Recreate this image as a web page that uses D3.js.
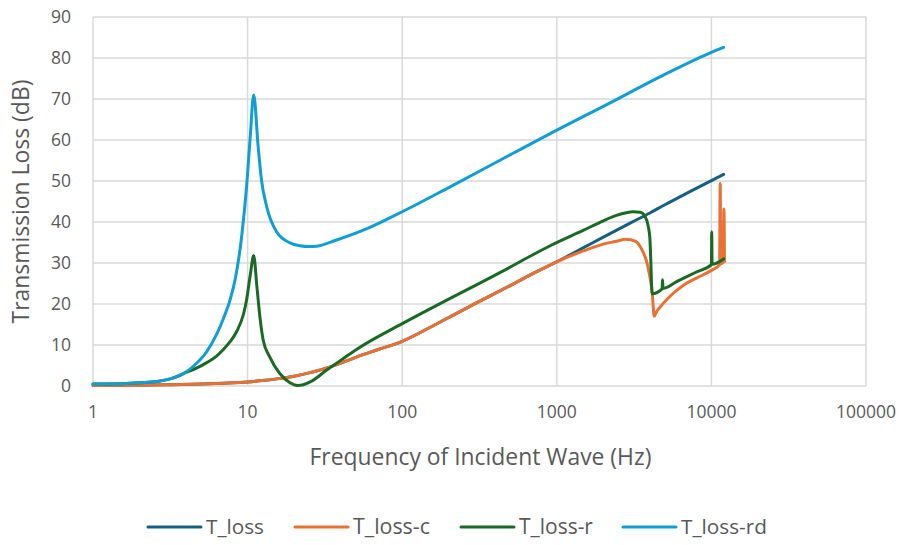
<!DOCTYPE html>
<html><head><meta charset="utf-8">
<script src="https://cdn.jsdelivr.net/npm/d3@7"></script>
<style>
html,body{margin:0;padding:0;background:#fff;}
svg{display:block;font-family:"Open Sans",sans-serif;}
</style></head>
<body><svg id="chart" width="909" height="545"></svg>
<script>
// ---- data ----
const seriesNames = ["T_loss", "T_loss-c", "T_loss-r", "T_loss-rd"];
const seriesColors = ["#156082", "#E97132", "#196B24", "#0F9ED5"];
const xTicks = [1, 10, 100, 1000, 10000, 100000];
const xTickLabels = ["1", "10", "100", "1000", "10000", "100000"];
const yTicks = [0, 10, 20, 30, 40, 50, 60, 70, 80, 90];

const tlossFreq = [1, 2, 3, 5, 7, 10, 13, 16, 20, 25, 30, 40, 50, 70, 100, 150, 200, 300, 500, 700, 1000, 1500, 2000, 3000, 4000, 5000, 7000, 10000, 12000];
const tlossVals = [0.1, 0.2, 0.3, 0.5, 0.7, 1.0, 1.4, 1.8, 2.4, 3.2, 4.0, 5.6, 7.0, 8.9, 10.9, 14.2, 16.7, 20.2, 24.5, 27.4, 30.3, 33.8, 36.3, 39.8, 42.2, 44.2, 47.1, 50.1, 51.6];

const tlossCFreq = [1, 2, 3, 5, 7, 10, 13, 16, 20, 25, 30, 40, 50, 70, 100, 150, 200, 300, 500, 700, 1000, 1500, 2000, 2430, 2800, 3240, 3580, 3800, 3920, 4050, 4130, 4270, 4400, 4600, 5200, 6600, 8000, 10000, 11300, 11400, 11500, 11900, 12050, 12150];
const tlossCVals = [0.1, 0.2, 0.3, 0.5, 0.7, 1.0, 1.4, 1.8, 2.4, 3.2, 4.0, 5.6, 7.0, 8.9, 10.9, 14.2, 16.7, 20.2, 24.5, 27.4, 30.3, 33.0, 34.6, 35.3, 35.8, 35.3, 33.0, 30.5, 28.3, 25.5, 23.4, 17.0, 18.0, 19.0, 21.3, 24.6, 26.3, 28.2, 29.6, 49.4, 29.8, 30.1, 43.2, 30.3];

const tlossRFreq = [1, 1.5, 2, 2.6, 3.2, 3.6, 4.0, 4.7, 5.44, 6.3, 6.97, 7.7, 8.5, 9.4, 9.85, 10.4, 10.95, 11.5, 12, 12.6, 13.9, 16.1, 18.8, 21.2, 25.4, 32.5, 41.6, 53, 100, 200, 300, 500, 700, 906, 1490, 2000, 2430, 3130, 3460, 3700, 3900, 4000, 4060, 4130, 4800, 4830, 4860, 6000, 8000, 10000, 10050, 10100, 12000];
const tlossRVals = [0.5, 0.55, 0.8, 1.1, 1.8, 2.5, 3.3, 4.4, 5.7, 7.3, 8.9, 10.8, 13.3, 17.5, 21, 27, 31.8, 24, 17, 11.3, 7.1, 3.1, 0.8, 0.1, 1.0, 3.9, 6.7, 9.4, 15.2, 21.2, 24.6, 29.0, 32.0, 34.2, 38.0, 40.3, 41.6, 42.5, 42.4, 41.5, 39.0, 36.0, 30.0, 22.5, 23.7, 25.9, 23.8, 25.5, 27.8, 29.6, 37.6, 29.7, 31.0];

const tlossRdFreq = [1, 1.5, 2, 2.6, 3.2, 3.6, 4.0, 4.7, 5.4, 6.3, 7.0, 7.7, 8.3, 9.15, 9.85, 10.4, 10.95, 11.7, 12.3, 13.3, 15.4, 18.8, 21.8, 25, 28, 37.6, 58.7, 100, 200, 500, 1000, 2000, 5000, 10000, 12000];
const tlossRdVals = [0.5, 0.55, 0.8, 1.1, 1.8, 2.5, 3.4, 5.6, 8.2, 12.6, 16.6, 21, 25.9, 36.4, 48.6, 60.8, 71, 58.4, 50.2, 43.7, 37.6, 34.9, 34.2, 34.0, 34.1, 35.6, 38.3, 42.5, 48.4, 56.4, 62.4, 68.2, 76.0, 81.4, 82.6];

const seriesFreqs = [tlossFreq, tlossCFreq, tlossRFreq, tlossRdFreq];
const seriesVals = [tlossVals, tlossCVals, tlossRVals, tlossRdVals];

// ---- drawing ----
const svg = d3.select("#chart");
const pLeft = 93, pRight = 866, pTop = 17, pBottom = 386;
const x = d3.scaleLog().domain([1, 100000]).range([pLeft, pRight]);
const y = d3.scaleLinear().domain([0, 90]).range([pBottom, pTop]);

const grid = svg.append("g");
grid.selectAll("line.h").data(yTicks).enter().append("line")
  .attr("x1", pLeft).attr("x2", pRight)
  .attr("y1", d => y(d)).attr("y2", d => y(d))
  .attr("stroke", "#d9d9d9").attr("stroke-width", 1.5);
grid.selectAll("line.v").data(xTicks).enter().append("line")
  .attr("y1", pTop).attr("y2", pBottom)
  .attr("x1", d => x(d)).attr("x2", d => x(d))
  .attr("stroke", "#d9d9d9").attr("stroke-width", 1.5);

// y tick labels
svg.append("g").selectAll("text").data(yTicks).enter().append("text")
  .attr("x", 71).attr("y", d => y(d)).attr("dy", "0.35em")
  .attr("text-anchor", "end").attr("fill", "#595959").attr("font-size", 17.5)
  .text(d => d);
// x tick labels
svg.append("g").selectAll("text").data(xTicks).enter().append("text")
  .attr("x", d => x(d)).attr("y", 418)
  .attr("text-anchor", "middle").attr("fill", "#595959").attr("font-size", 17.5)
  .text((d, i) => xTickLabels[i]);

function fit(sel, target) {
  const n = sel.node();
  const fs = parseFloat(sel.attr("font-size"));
  const w = n.getComputedTextLength();
  if (w > 0) sel.attr("font-size", fs * target / w);
}

const xt = svg.append("text").attr("x", (pLeft + pRight) / 2 + 1).attr("y", 465)
  .attr("text-anchor", "middle").attr("fill", "#595959").attr("font-size", 19)
  .text("Frequency of Incident Wave (Hz)");
fit(xt, 342);
const yt = svg.append("text").attr("transform", `translate(29,${(pTop + pBottom) / 2}) rotate(-90)`)
  .attr("text-anchor", "middle").attr("fill", "#595959").attr("font-size", 19)
  .text("Transmission Loss (dB)");
fit(yt, 244);

// lines
const line = d3.line().x(d => x(d[0])).y(d => y(d[1])).curve(d3.curveMonotoneX);
seriesNames.forEach((name, i) => {
  const pts = seriesFreqs[i].map((f, j) => [f, seriesVals[i][j]]);
  svg.append("path").datum(pts)
    .attr("fill", "none").attr("stroke", seriesColors[i])
    .attr("stroke-width", 3).attr("stroke-linejoin", "round").attr("stroke-linecap", "round")
    .attr("d", line);
});

// legend
const legX = [148, 295, 461, 623];
const legTextW = [58, 77, 74, 86];
const lg = svg.append("g");
seriesNames.forEach((name, i) => {
  lg.append("line").attr("x1", legX[i]).attr("x2", legX[i] + 53)
    .attr("y1", 527).attr("y2", 527)
    .attr("stroke", seriesColors[i]).attr("stroke-width", 3).attr("stroke-linecap", "round");
  const t = lg.append("text").attr("x", legX[i] + 58).attr("y", 527).attr("dy", "0.35em")
    .attr("fill", "#595959").attr("font-size", 17).text(name);
  fit(t, legTextW[i]);
});
</script></body></html>
